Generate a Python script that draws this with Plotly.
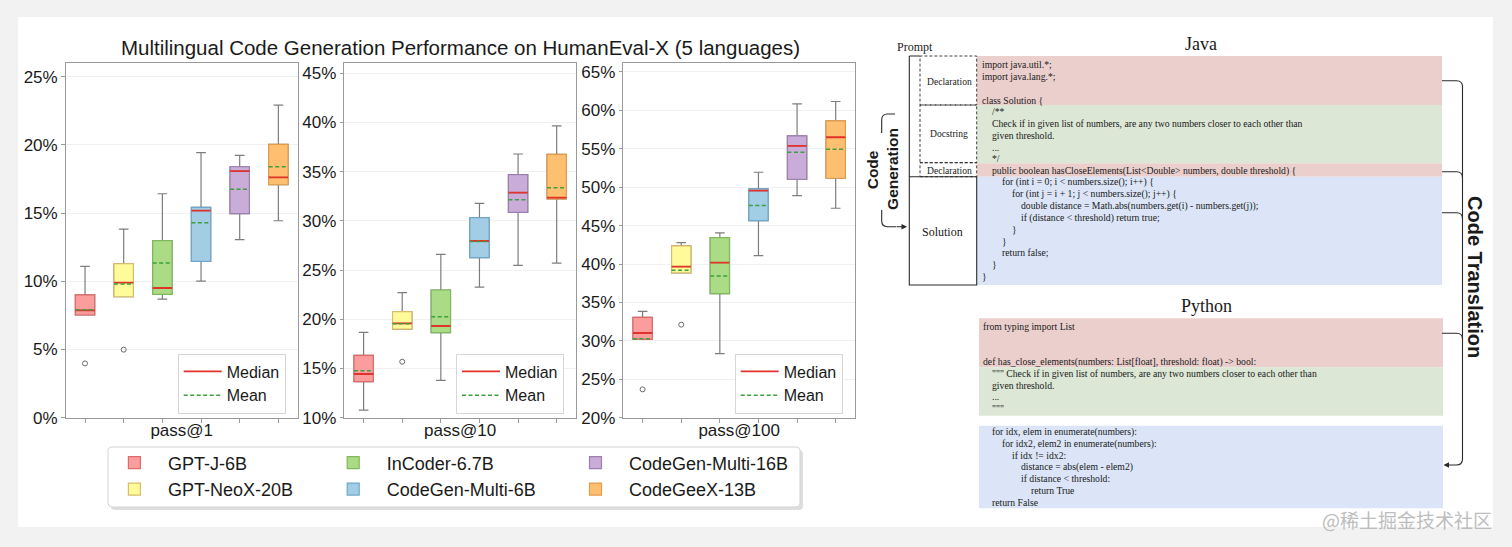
import plotly.graph_objects as go

W, H = 1512, 547

# ---------------- data ----------------
models = ["GPT-J-6B", "GPT-NeoX-20B", "InCoder-6.7B", "CodeGen-Multi-6B", "CodeGen-Multi-16B", "CodeGeeX-13B"]
positions = [0, 1, 2, 3, 4, 5]
metrics = ["pass@1", "pass@10", "pass@100"]

pass1_lower = [7.53, 8.87, 8.70, 10.02, 13.05, 14.44]
pass1_q1 = [7.53, 8.87, 9.04, 11.46, 14.96, 17.08]
pass1_median = [7.87, 9.90, 9.51, 15.18, 18.08, 17.62]
pass1_q3 = [9.00, 11.29, 12.98, 15.42, 18.40, 20.04]
pass1_upper = [11.10, 13.83, 16.42, 19.43, 19.23, 22.92]
pass1_mean = [7.92, 9.80, 11.34, 14.30, 16.76, 18.40]
pass1_outlier_pos = [0, 1]
pass1_outliers = [3.98, 4.99]

pass10_lower = [10.78, 19.01, 13.80, 23.28, 25.49, 25.72]
pass10_q1 = [13.66, 19.01, 18.64, 26.27, 30.87, 32.23]
pass10_median = [14.44, 19.59, 19.32, 27.96, 32.87, 32.37]
pass10_q3 = [16.34, 20.78, 22.98, 30.33, 34.70, 36.77]
pass10_upper = [18.68, 22.71, 26.60, 31.79, 36.80, 39.65]
pass10_mean = [14.78, 19.55, 20.27, 27.92, 32.16, 33.38]
pass10_outlier_pos = [1]
pass10_outliers = [15.69]

pass100_lower = [30.20, 38.84, 28.33, 41.09, 48.91, 47.26]
pass100_q1 = [30.20, 38.84, 36.15, 45.65, 51.03, 51.16]
pass100_median = [31.02, 39.66, 40.18, 49.56, 55.37, 56.50]
pass100_q3 = [33.06, 42.35, 43.44, 49.77, 56.68, 58.63]
pass100_upper = [33.85, 42.79, 44.05, 51.94, 60.84, 61.15]
pass100_mean = [30.29, 39.18, 38.45, 47.60, 54.55, 54.94]
pass100_outlier_pos = [0, 1]
pass100_outliers = [23.69, 32.11]

y_ranges = [[0, 26.03], [10, 46.08], [20, 66.2]]
y_ticks = [[0, 5, 10, 15, 20, 25], [10, 15, 20, 25, 30, 35, 40, 45], [20, 25, 30, 35, 40, 45, 50, 55, 60, 65]]

java_lines = [
    "import java.util.*;",
    "import java.lang.*;",
    "",
    "class Solution {",
    "    /**",
    "    Check if in given list of numbers, are any two numbers closer to each other than",
    "    given threshold.",
    "    ...",
    "    */",
    "    public boolean hasCloseElements(List<Double> numbers, double threshold) {",
    "        for (int i = 0; i < numbers.size(); i++) {",
    "            for (int j = i + 1; j < numbers.size(); j++) {",
    "                double distance = Math.abs(numbers.get(i) - numbers.get(j));",
    "                if (distance < threshold) return true;",
    "            }",
    "        }",
    "        return false;",
    "    }",
    "}",
]
python_lines = [
    "from typing import List",
    "",
    "",
    "def has_close_elements(numbers: List[float], threshold: float) -> bool:",
    '    """ Check if in given list of numbers, are any two numbers closer to each other than',
    "    given threshold.",
    "    ...",
    '    """',
    "",
    "    for idx, elem in enumerate(numbers):",
    "        for idx2, elem2 in enumerate(numbers):",
    "            if idx != idx2:",
    "                distance = abs(elem - elem2)",
    "                if distance < threshold:",
    "                    return True",
    "    return False",
]

# ---------------- styles ----------------
SANS = "Liberation Sans, Arial, Helvetica, sans-serif"
SERIF = "Liberation Serif, Times New Roman, serif"
fill_colors = ["#fa9d9c", "#fffa9a", "#abdc85", "#a2cde4", "#c9acd8", "#ffbf70"]
edge_colors = ["#e06a6a", "#d9bd6a", "#7fb95e", "#6fa8cd", "#9c7fb0", "#e39c4a"]
whisker_color = "#7d7d7d"
median_color = "#e2322c"
mean_color = "#3d9f3d"
axis_color = "#9a9a9a"
text_color = "#1a1a1a"
panel_red, panel_green, panel_blue = "#ebcfcd", "#dde7d6", "#dbe5f7"

col_legends = ["legend", "legend", "legend2", "legend2", "legend3", "legend3"]
ml_legends = ["legend4", "legend5", "legend6"]

def PX(x):
    return x / W

def PY(y):
    return 1 - y / H

def P(x, y):
    return f"{PX(x):.5f},{PY(y):.5f}"

stats = [
    (pass1_lower, pass1_q1, pass1_median, pass1_q3, pass1_upper, pass1_mean, pass1_outlier_pos, pass1_outliers),
    (pass10_lower, pass10_q1, pass10_median, pass10_q3, pass10_upper, pass10_mean, pass10_outlier_pos, pass10_outliers),
    (pass100_lower, pass100_q1, pass100_median, pass100_q3, pass100_upper, pass100_mean, pass100_outlier_pos, pass100_outliers),
]

fig = go.Figure()
half = 0.25
for s, (lo, q1, med, q3, hi, mean, opos, ovals) in enumerate(stats):
    xa = "x" if s == 0 else f"x{s+1}"
    ya = "y" if s == 0 else f"y{s+1}"
    for i, m in enumerate(models):
        # whiskers (gray)
        fig.add_trace(go.Box(
            x=[positions[i]], q1=[q1[i]], median=[med[i]], q3=[q3[i]],
            lowerfence=[lo[i]], upperfence=[hi[i]], orientation="v",
            width=0.5, whiskerwidth=0.5, line=dict(color=whisker_color, width=1.2),
            fillcolor="rgba(0,0,0,0)", boxpoints=False, showlegend=False,
            legendgroup=m, legend=col_legends[i], hoverinfo="skip", xaxis=xa, yaxis=ya))
        # coloured box body
        fig.add_trace(go.Box(
            x=[positions[i]], q1=[q1[i]], median=[med[i]], q3=[q3[i]],
            lowerfence=[q1[i]], upperfence=[q3[i]], orientation="v",
            width=0.5, whiskerwidth=0.5, line=dict(color=edge_colors[i], width=1.2),
            fillcolor=fill_colors[i], boxpoints=False, name=m, legendgroup=m,
            legend=col_legends[i], showlegend=(s == 0), xaxis=xa, yaxis=ya))
    # outliers
    fig.add_trace(go.Scatter(
        x=[positions[p] for p in opos], y=ovals, mode="markers",
        marker=dict(symbol="circle-open", size=5, color="#6a6a6a", line=dict(width=1)),
        showlegend=False, xaxis=xa, yaxis=ya, hoverinfo="y"))
    # medians & means
    mx, my, ex, ey = [], [], [], []
    for i in range(len(models)):
        mx += [positions[i] - half, positions[i] + half, None]
        my += [med[i], med[i], None]
        ex += [positions[i] - half, positions[i] + half, None]
        ey += [mean[i], mean[i], None]
    fig.add_trace(go.Scatter(x=mx, y=my, mode="lines", name="Median",
                             line=dict(color=median_color, width=1.8),
                             legend=ml_legends[s], xaxis=xa, yaxis=ya))
    fig.add_trace(go.Scatter(x=ex, y=ey, mode="lines", name="Mean",
                             line=dict(color=mean_color, width=1.5, dash="4px,2.5px"),
                             legend=ml_legends[s], xaxis=xa, yaxis=ya))

# ---------------- axes ----------------
x_domains = [[65.7, 297.7], [344.3, 576.0], [623.3, 855.0]]
y_domain = [PY(417.7), PY(62.7)]
layout_axes = {}
for s in range(3):
    xk = "xaxis" if s == 0 else f"xaxis{s+1}"
    yk = "yaxis" if s == 0 else f"yaxis{s+1}"
    layout_axes[xk] = dict(
        domain=[PX(x_domains[s][0]), PX(x_domains[s][1])], range=[-0.5, 5.5],
        anchor="y" if s == 0 else f"y{s+1}",
        tickvals=positions, showticklabels=False, ticks="outside", ticklen=4,
        tickcolor=axis_color, showline=True, mirror=True, linecolor=axis_color,
        linewidth=1.2, showgrid=False, zeroline=False,
        title=dict(text=metrics[s], font=dict(family=SANS, size=17, color=text_color), standoff=2))
    layout_axes[yk] = dict(
        domain=y_domain, range=y_ranges[s], anchor="x" if s == 0 else f"x{s+1}",
        tickvals=y_ticks[s], ticktext=[f"{v}%" for v in y_ticks[s]],
        ticks="outside", ticklen=3.5, tickcolor=axis_color,
        tickfont=dict(family=SANS, size=17, color=text_color),
        showline=True, mirror=True, linecolor=axis_color, linewidth=1.2,
        showgrid=True, gridcolor="#f1f1f1", gridwidth=1, zeroline=False)

# ---------------- legends ----------------
main_leg = dict(orientation="v", bgcolor="rgba(0,0,0,0)", borderwidth=0,
                font=dict(family=SANS, size=18, color=text_color), itemwidth=57,
                tracegroupgap=0, xanchor="left", yanchor="top", y=PY(444.5))
ml_leg = dict(orientation="v", bgcolor="white", bordercolor="#d6d6d6", borderwidth=1,
              font=dict(family=SANS, size=16, color=text_color), itemwidth=38,
              xanchor="left", yanchor="top", y=PY(353.5))
legends = {
    "legend": dict(main_leg, x=PX(100.9)),
    "legend2": dict(main_leg, x=PX(319.7)),
    "legend3": dict(main_leg, x=PX(562.0)),
    "legend4": dict(ml_leg, x=PX(177.7)),
    "legend5": dict(ml_leg, x=PX(456.0)),
    "legend6": dict(ml_leg, x=PX(734.7)),
}

# ---------------- shapes ----------------
shapes = []

def rect(x0, y0, x1, y1, fill, line_color=None, lw=0, dash=None, layer="above"):
    d = dict(type="rect", xref="paper", yref="paper", x0=PX(x0), x1=PX(x1), y0=PY(y1), y1=PY(y0),
             fillcolor=fill, line=dict(width=lw, color=line_color or "rgba(0,0,0,0)"), layer=layer)
    if dash:
        d["line"]["dash"] = dash
    return d

def path(d, color="#2a2a2a", width=1.1, fill=None, layer="above"):
    sh = dict(type="path", xref="paper", yref="paper", path=d,
              line=dict(color=color, width=width), layer=layer)
    if fill:
        sh["fillcolor"] = fill
    return sh

def rrect_path(x0, y0, x1, y1, r):
    return (f"M{P(x0 + r, y0)} L{P(x1 - r, y0)} Q{P(x1, y0)} {P(x1, y0 + r)} "
            f"L{P(x1, y1 - r)} Q{P(x1, y1)} {P(x1 - r, y1)} L{P(x0 + r, y1)} "
            f"Q{P(x0, y1)} {P(x0, y1 - r)} L{P(x0, y0 + r)} Q{P(x0, y0)} {P(x0 + r, y0)} Z")

# white panel
shapes.append(rect(18, 17, 1493, 527, "white", layer="below"))
# main legend frame + shadow
shapes.append(path(rrect_path(111, 450, 803, 510, 4), color="rgba(0,0,0,0)", width=0,
                   fill="rgba(0,0,0,0.13)", layer="below"))
shapes.append(path(rrect_path(108, 447, 800, 507, 4), color="#d4d4d4", width=1,
                   fill="white", layer="below"))

# Java code panels
shapes.append(rect(977, 56, 1442, 105, panel_red))
shapes.append(rect(977, 105, 1442, 163.3, panel_green))
shapes.append(rect(977, 163.3, 1442, 176.7, panel_red))
shapes.append(rect(977, 176.7, 1442, 285, panel_blue))
# Python code panels
shapes.append(rect(979, 318.3, 1443, 367.3, panel_red))
shapes.append(rect(979, 367.3, 1443, 415.7, panel_green))
shapes.append(rect(979, 425.7, 1443, 508.3, panel_blue))
# dashed prompt boxes
for (a, b) in [(56, 105), (105, 162.7), (162.7, 176.7)]:
    shapes.append(rect(920, a, 976.7, b, "rgba(0,0,0,0)", "#2a2a2a", 0.9, dash="3px,2px"))
# solid prompt/solution outline
shapes.append(path(f"M{P(909.3, 56)} L{P(920, 56)} M{P(909.3, 56)} L{P(909.3, 285)} "
                   f"L{P(976.7, 285)} L{P(976.7, 176.7)} L{P(909.3, 176.7)}"))
# left "Code Generation" bracket
shapes.append(path(f"M{P(895, 114)} L{P(887.5, 114)} Q{P(881.7, 114)} {P(881.7, 120)} L{P(881.7, 133)}"))
shapes.append(path(f"M{P(881.7, 210)} L{P(881.7, 221)} Q{P(881.7, 226.7)} {P(887.5, 226.7)} L{P(896, 226.7)}"))
# right "Code Translation" bracket
XV = 1462.5
shapes.append(path(f"M{P(1442, 80.7)} L{P(1456.5, 80.7)} Q{P(XV, 80.7)} {P(XV, 86.7)} "
                   f"L{P(XV, 459)} Q{P(XV, 465)} {P(1456.5, 465)} L{P(1455, 465)}"))
for yy in [171.7, 212.7, 333.3]:
    shapes.append(path(f"M{P(1442, yy)} L{P(1456.5, yy)} Q{P(XV, yy)} {P(XV, yy + 6)}"))

# ---------------- annotations ----------------
ann = []

def esc(t):
    return t.replace("&", "&amp;").replace("<", "&lt;").replace(">", "&gt;")

def text(x, y, t, size, family=SERIF, xanchor="left", angle=0, color=text_color):
    ann.append(dict(x=PX(x), y=PY(y), xref="paper", yref="paper", text=t, showarrow=False,
                    xanchor=xanchor, yanchor="middle", textangle=angle,
                    font=dict(family=family, size=size, color=color)))

CODE_SIZE = 9.7
INDENT = 9.7
for k, line in enumerate(java_lines):
    if line.strip():
        lvl = (len(line) - len(line.lstrip(" "))) // 4
        text(980.5 + lvl * INDENT, 64.8 + 11.75 * k, esc(line.strip()), CODE_SIZE)
for k, line in enumerate(python_lines):
    if line.strip():
        lvl = (len(line) - len(line.lstrip(" "))) // 4
        text(980.5 + lvl * INDENT, 326.7 + 11.7 * k, esc(line.strip()), CODE_SIZE)

text(1201.3, 44, "Java", 18, xanchor="center")
text(1206.7, 305.7, "Python", 18, xanchor="center")
text(914.7, 46.7, "Prompt", 12, xanchor="center")
text(949, 81.7, "Declaration", 9.6, xanchor="center")
text(949, 134, "Docstring", 9.6, xanchor="center")
text(949, 170.5, "Declaration", 9.6, xanchor="center")
text(942.7, 232.3, "Solution", 12, xanchor="center")
text(873.3, 170, "<b>Code</b>", 15.5, family=SANS, xanchor="center", angle=-90)
text(891.7, 169.2, "<b>Generation</b>", 15.5, family=SANS, xanchor="center", angle=-90)
text(1475, 277, "<b>Code Translation</b>", 20, family=SANS, xanchor="center", angle=90)
ann.append(dict(x=PX(1494), y=PY(519), xref="paper", yref="paper", text="@稀土掘金技术社区",
                showarrow=False, xanchor="right", yanchor="middle",
                font=dict(family="Noto Sans CJK SC", size=19, color="#bdbdbd")))
# arrows
for (tx, ty, axo) in [(907, 226.7, -12), (1443.5, 465, 13)]:
    ann.append(dict(x=PX(tx), y=PY(ty), xref="paper", yref="paper", text="", showarrow=True,
                    ax=axo, ay=0, arrowhead=2, arrowsize=1, arrowwidth=1.1,
                    arrowcolor="#2a2a2a", standoff=0))

fig.update_layout(
    width=W, height=H, margin=dict(l=0, r=0, t=0, b=0, pad=0, autoexpand=False),
    paper_bgcolor="#f2f2f2", plot_bgcolor="rgba(0,0,0,0)",
    boxmode="overlay", showlegend=True,
    title=dict(text="Multilingual Code Generation Performance on HumanEval-X (5 languages)",
               x=PX(460.5), xanchor="center", y=PY(48), yanchor="middle",
               font=dict(family=SANS, size=20.5, color=text_color)),
    shapes=shapes, annotations=ann,
    **layout_axes, **legends,
)

fig.write_html("out.html", config={"displayModeBar": False},
               post_script="document.body.style.margin='0';document.body.style.background='#f2f2f2';")
